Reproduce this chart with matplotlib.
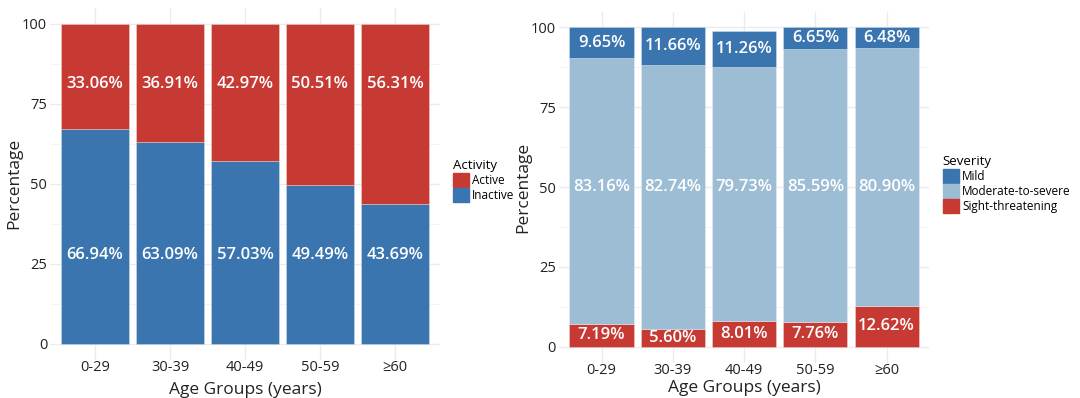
import matplotlib.pyplot as plt
from matplotlib.patches import Patch
import numpy as np

plt.rcParams['font.family'] = ['Open Sans', 'DejaVu Sans']

age_groups = ['0-29', '30-39', '40-49', '50-59', '≥60']

# left panel: activity
inactive = [66.94, 63.09, 57.03, 49.49, 43.69]
active = [33.06, 36.91, 42.97, 50.51, 56.31]

# right panel: severity
sight = [7.19, 5.60, 8.01, 7.76, 12.62]
moderate = [83.16, 82.74, 79.73, 85.59, 80.90]
mild = [9.65, 11.66, 11.26, 6.65, 6.48]

RED = '#C63A33'
BLUE = '#3B75AF'
LIGHT = '#9DBDD4'
GRID = '#EBEBEB'
TXT = '#222222'

fig = plt.figure(figsize=(10.8, 3.98), dpi=100)
ax1 = fig.add_axes([0.0463, 0.096, 0.361, 0.885])
ax2 = fig.add_axes([0.5174, 0.089, 0.3431, 0.882])

x = np.arange(len(age_groups))


def style(ax, xpad):
    ax.set_xlim(-0.6, 4.6)
    ax.set_ylim(-5, 105)
    ax.set_yticks([0, 25, 50, 75, 100])
    ax.set_yticks([12.5, 37.5, 62.5, 87.5], minor=True)
    ax.set_xticks(x)
    ax.set_xticklabels(age_groups)
    ax.grid(True, which='major', color=GRID, lw=1.0, zorder=0)
    ax.grid(True, which='minor', axis='y', color='#F4F4F4', lw=0.7, zorder=0)
    ax.set_axisbelow(True)
    for s in ax.spines.values():
        s.set_visible(False)
    ax.tick_params(length=0, labelsize=10.5, colors=TXT)
    ax.tick_params(axis='x', pad=0)
    ax.tick_params(axis='y', pad=2)
    ax.tick_params(which='minor', length=0)
    ax.set_xlabel('Age Groups (years)', fontsize=12.5, color=TXT, labelpad=xpad)
    ax.set_ylabel('Percentage', fontsize=12.5, color=TXT, labelpad=0)


lab = dict(ha='center', va='center', color='white', fontsize=12, fontweight='semibold')
edge = dict(edgecolor='#FFFFFF55', linewidth=0.6)

# left
ax1.bar(x, inactive, width=0.9, color=BLUE, zorder=2, **edge)
ax1.bar(x, active, width=0.9, bottom=inactive, color=RED, zorder=2, **edge)
for i in range(len(x)):
    ax1.text(x[i], 81, f'{active[i]:.2f}%', zorder=3, **lab)
    ax1.text(x[i], 27.7, f'{inactive[i]:.2f}%', zorder=3, **lab)
style(ax1, 5)

# right
mid_bottom = np.array(sight)
top_bottom = mid_bottom + np.array(moderate)
ax2.bar(x, sight, width=0.9, color=RED, zorder=2, **edge)
ax2.bar(x, moderate, width=0.9, bottom=mid_bottom, color=LIGHT, zorder=2, **edge)
ax2.bar(x, mild, width=0.9, bottom=top_bottom, color=BLUE, zorder=2, **edge)
for i in range(len(x)):
    ax2.text(x[i], sight[i] / 2, f'{sight[i]:.2f}%', zorder=3, **lab)
    ax2.text(x[i], 50, f'{moderate[i]:.2f}%', zorder=3, **lab)
    ax2.text(x[i], top_bottom[i] + mild[i] / 2, f'{mild[i]:.2f}%', zorder=3, **lab)
style(ax2, 2)

leg_kw = dict(loc='upper left', frameon=False, fontsize=8.5, title_fontsize=9.5,
              handlelength=1.4, handleheight=1.4, handletextpad=0.25,
              labelspacing=0.1, borderpad=0, borderaxespad=0, alignment='left')

fig.legend(handles=[Patch(color=RED, label='Active'), Patch(color=BLUE, label='Inactive')],
           title='Activity', bbox_to_anchor=(0.419, 0.6), **leg_kw)
fig.legend(handles=[Patch(color=BLUE, label='Mild'),
                    Patch(color=LIGHT, label='Moderate-to-severe'),
                    Patch(color=RED, label='Sight-threatening')],
           title='Severity', bbox_to_anchor=(0.873, 0.61), **leg_kw)

fig.savefig('out.png', dpi=100, facecolor='white')
